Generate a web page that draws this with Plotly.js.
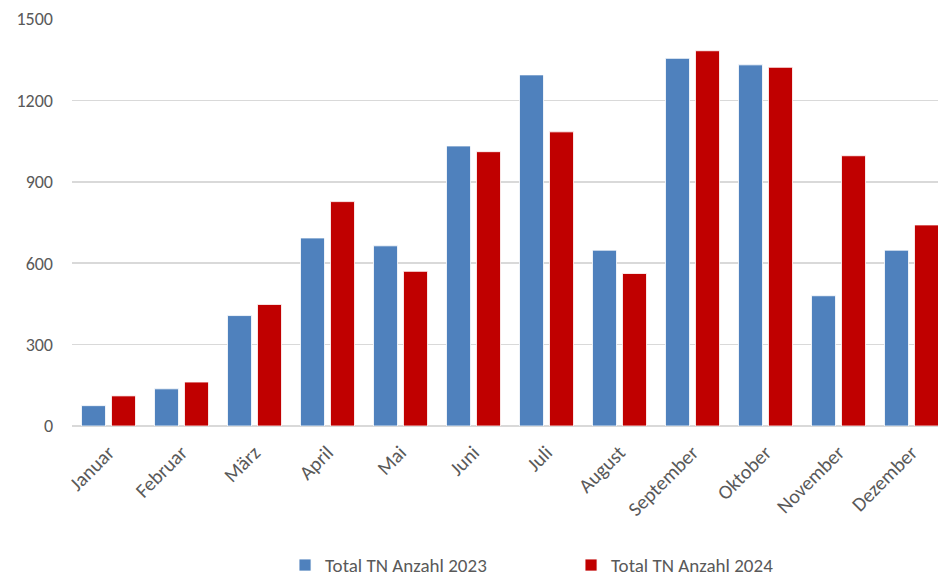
<!DOCTYPE html>
<html>
<head>
<meta charset="utf-8">
<script src="https://cdn.plot.ly/plotly-3.0.1.min.js"></script>
<style>
  html, body { margin: 0; padding: 0; background: #ffffff; }
  #chart { width: 938px; height: 577px; }
</style>
</head>
<body>
<div id="chart"></div>
<script>
// Monthly participant counts (TN) for 2023 and 2024
const months = ["Januar", "Februar", "März", "April", "Mai", "Juni", "Juli",
                "August", "September", "Oktober", "November", "Dezember"];
const total2023 = [75, 137, 407, 693, 664, 1032, 1294, 648, 1355, 1331, 480, 648];
const total2024 = [111, 162, 448, 827, 570, 1011, 1084, 562, 1383, 1322, 996, 741];
const yTicks = [0, 300, 600, 900, 1200, 1500];

const fontFamily = "Carlito, Lato, 'Open Sans', sans-serif";

const traces = [
  {
    type: "bar",
    name: "Total TN Anzahl 2023",
    x: months,
    y: total2023,
    marker: { color: "#4F81BD", line: { color: "#ffffff", width: 0.8 } },
    hoverinfo: "x+y"
  },
  {
    type: "bar",
    name: "Total TN Anzahl 2024",
    x: months,
    y: total2024,
    marker: { color: "#C00000", line: { color: "#ffffff", width: 0.8 } },
    hoverinfo: "x+y"
  }
];

const layout = {
  width: 938,
  height: 577,
  margin: { l: 72, r: 0, t: 19, b: 151, autoexpand: false },
  paper_bgcolor: "#ffffff",
  plot_bgcolor: "#ffffff",
  font: { family: fontFamily, color: "#595959", size: 16 },
  barmode: "group",
  bargap: 0.178,
  bargroupgap: 0.2,
  showlegend: true,
  legend: {
    orientation: "h",
    x: 0.246,
    xanchor: "left",
    y: -0.342,
    yanchor: "middle",
    entrywidth: 241,
    entrywidthmode: "pixels",
    font: { family: fontFamily, size: 19, color: "#595959" },
    itemwidth: 30,
    tracegroupgap: 0
  },
  xaxis: {
    type: "category",
    range: [-0.5, 11.363],
    automargin: false,
    tickangle: -45,
    tickfont: { family: fontFamily, size: 20, color: "#595959" },
    showgrid: false,
    showline: false,
    zeroline: false,
    ticks: "",
    ticklen: 0,
    ticklabelstandoff: 10
  },
  yaxis: {
    range: [0, 1500],
    automargin: false,
    tickvals: yTicks,
    ticktext: yTicks.map(String),
    tickfont: { family: fontFamily, size: 18, color: "#595959" },
    showgrid: true,
    gridcolor: "#d9d9d9",
    gridwidth: 1.5,
    zeroline: true,
    zerolinecolor: "#d9d9d9",
    zerolinewidth: 1.5,
    showline: false,
    ticks: "",
    ticklabelstandoff: 18
  }
};

Plotly.newPlot("chart", traces, layout, { displayModeBar: false, staticPlot: true });
</script>
</body>
</html>
